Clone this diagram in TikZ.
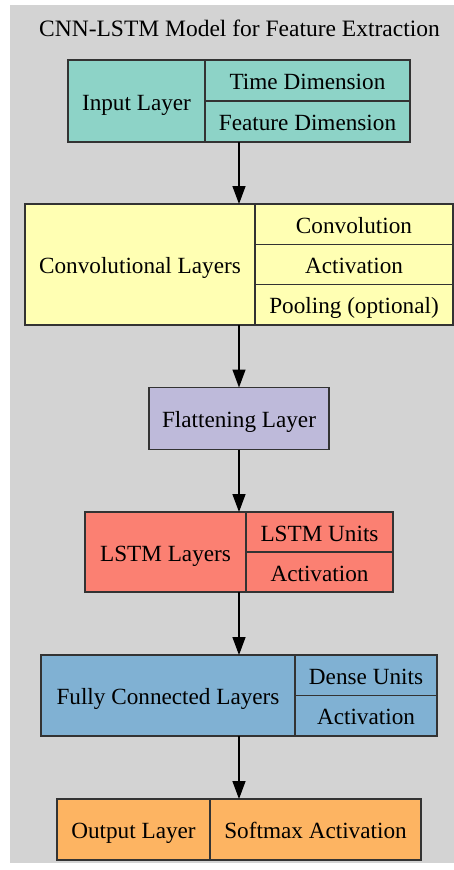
\documentclass[tikz,border=0pt]{standalone}
\usepackage{fontspec}
\setmainfont{Liberation Serif}
\usetikzlibrary{arrows.meta}

\definecolor{clusterbg}{HTML}{D3D3D3}
\definecolor{edgegray}{HTML}{333333}
\definecolor{cinput}{HTML}{8DD3C7}
\definecolor{cconv}{HTML}{FFFFB3}
\definecolor{cflat}{HTML}{BEBADA}
\definecolor{clstm}{HTML}{FB8072}
\definecolor{cfc}{HTML}{80B1D3}
\definecolor{cout}{HTML}{FDB462}

\tikzset{
  cell/.style={draw=edgegray, line width=1.2pt, inner sep=0pt, outer sep=0pt,
    text height=18pt, text depth=0pt,
    font=\fontsize{23.2}{27}\selectfont, text=black},
  flow/.style={line width=1.4pt, -{Triangle[length=18pt,width=13pt]}},
}

\begin{document}
\begin{tikzpicture}[x=1pt,y=-1pt]
  \useasboundingbox (0,0) rectangle (454,870);
  % cluster background
  \fill[clusterbg] (10,5) rectangle (454,863);
  \node[font=\fontsize{23.5}{27}\selectfont] (title) at (239.5,28) {CNN-LSTM Model for Feature Extraction};

  % input layer record
  \node[cell, fill=cinput, minimum width=137pt, minimum height=82pt] (inmain) at (136.5,101) {Input Layer};
  \node[cell, fill=cinput, minimum width=205pt, minimum height=41pt] (intime) at (307.5,80.5) {Time Dimension};
  \node[cell, fill=cinput, minimum width=205pt, minimum height=41pt] (infeat) at (307.5,121.5) {Feature Dimension};

  % convolutional record
  \node[cell, fill=cconv, minimum width=230pt, minimum height=121pt] (convmain) at (140,264.5) {Convolutional Layers};
  \node[cell, fill=cconv, minimum width=198pt, minimum height=40.33pt] (convc) at (354,224.2) {Convolution};
  \node[cell, fill=cconv, minimum width=198pt, minimum height=40.33pt] (conva) at (354,264.5) {Activation};
  \node[cell, fill=cconv, minimum width=198pt, minimum height=40.33pt] (convp) at (354,304.8) {Pooling (optional)};

  % flattening
  \node[cell, fill=cflat, minimum width=180pt, minimum height=62pt] (flat) at (239,418.5) {Flattening Layer};

  % LSTM record
  \node[cell, fill=clstm, minimum width=161pt, minimum height=80pt] (lstmmain) at (165.5,552) {LSTM Layers};
  \node[cell, fill=clstm, minimum width=147pt, minimum height=40pt] (lstmu) at (319.5,532) {LSTM Units};
  \node[cell, fill=clstm, minimum width=147pt, minimum height=40pt] (lstma) at (319.5,572) {Activation};

  % fully connected record
  \node[cell, fill=cfc, minimum width=254pt, minimum height=81pt] (fcmain) at (168,695.5) {Fully Connected Layers};
  \node[cell, fill=cfc, minimum width=142pt, minimum height=40.5pt] (fcd) at (366,675.25) {Dense Units};
  \node[cell, fill=cfc, minimum width=142pt, minimum height=40.5pt] (fca) at (366,715.75) {Activation};

  % output record
  \node[cell, fill=cout, minimum width=153pt, minimum height=61pt] (outmain) at (133.5,829.5) {Output Layer};
  \node[cell, fill=cout, minimum width=211pt, minimum height=61pt] (outsoft) at (315.5,829.5) {Softmax Activation};

  % connectors
  \draw[flow] (infeat.south -| flat.center) -- (convmain.north -| flat.center);
  \draw[flow] (convmain.south -| flat.center) -- (flat.north);
  \draw[flow] (flat.south) -- (lstmmain.north -| flat.center);
  \draw[flow] (lstmmain.south -| flat.center) -- (fcmain.north -| flat.center);
  \draw[flow] (fcmain.south -| flat.center) -- (outmain.north -| flat.center);
\end{tikzpicture}
\end{document}
